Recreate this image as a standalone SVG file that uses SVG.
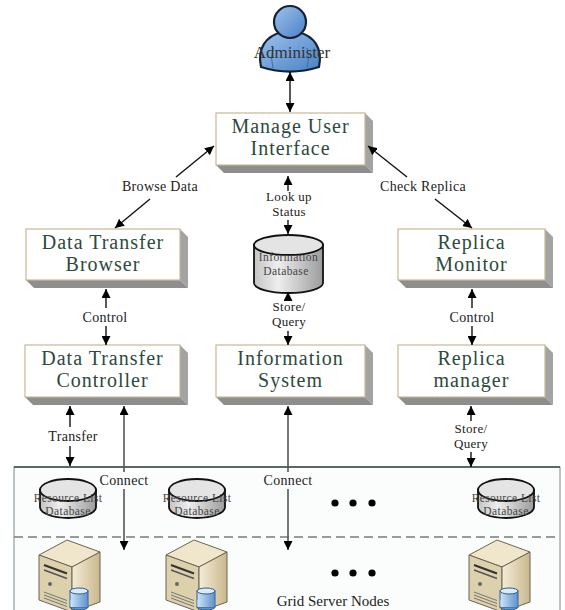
<svg xmlns="http://www.w3.org/2000/svg" xmlns:xlink="http://www.w3.org/1999/xlink" width="565" height="610" viewBox="0 0 565 610">
  <style>
    .face { fill: #ffffff; stroke: #c9b894; stroke-width: 1.2; }
    .side { fill: #a3a3a3; }
    .bottom { fill: #8e8e8e; }
    .boxlabel { font-family: "Liberation Serif", "Times New Roman", serif; font-size: 20px; letter-spacing: 1px; fill: #2c4a3d; text-anchor: middle; }
    .lbl { font-family: "Liberation Serif", "Times New Roman", serif; font-size: 13px; letter-spacing: 0.3px; fill: #222; text-anchor: middle; }
    .lbl1 { font-size: 14px; }
    .dblbl { font-family: "Liberation Serif", "Times New Roman", serif; font-size: 11.5px; letter-spacing: 0.4px; fill: #444; text-anchor: middle; }
    .arrow { stroke: #111; stroke-width: 1.4; fill: none; marker-end: url(#ah); }
    .conn { stroke: #555; stroke-width: 1.6; fill: none; marker-end: url(#ah); }
    .cyl { stroke: #111; stroke-width: 1.8; }
    .dot { fill: #000; }
  </style>
  <defs>
    <marker id="ah" viewBox="0 0 10 10" refX="10" refY="5" markerWidth="9" markerHeight="9" markerUnits="userSpaceOnUse" orient="auto">
      <path d="M0,0 L10,5 L0,10 z" fill="#000"/>
    </marker>
    <linearGradient id="cylBody" x1="0" y1="0" x2="1" y2="0">
      <stop offset="0" stop-color="#c4c4c4"/>
      <stop offset="0.35" stop-color="#eeeeee"/>
      <stop offset="1" stop-color="#9c9c9c"/>
    </linearGradient>
    <linearGradient id="person" x1="0" y1="0" x2="1" y2="1">
      <stop offset="0" stop-color="#9cc3ee"/>
      <stop offset="1" stop-color="#4a80c4"/>
    </linearGradient>
    <linearGradient id="srvSide" x1="0" y1="0" x2="1" y2="0">
      <stop offset="0" stop-color="#f4ecd6"/>
      <stop offset="1" stop-color="#c9b88e"/>
    </linearGradient>
    <linearGradient id="srvBlue" x1="0" y1="0" x2="1" y2="0">
      <stop offset="0" stop-color="#cfe3f7"/>
      <stop offset="1" stop-color="#5e93cc"/>
    </linearGradient>
    <clipPath id="infoClip">
      <rect x="255" y="232" width="67" height="62"/>
    </clipPath>
    <!-- server tower with a small disk cylinder -->
    <g id="server">
      <polygon points="1,15 29,0 62,12 34,27" fill="#efe6cc" stroke="#6b6450" stroke-width="1"/>
      <polygon points="1,15 34,27 34,72 1,60" fill="#ddd0ac" stroke="#6b6450" stroke-width="1"/>
      <polygon points="34,27 62,12 62,62 34,72" fill="url(#srvSide)" stroke="#6b6450" stroke-width="1"/>
      <line x1="6" y1="25" x2="29" y2="33.5" stroke="#333" stroke-width="2"/>
      <line x1="6" y1="30" x2="29" y2="38.5" stroke="#555" stroke-width="1.5"/>
      <circle cx="12" cy="44" r="2" fill="#666"/>
      <line x1="6" y1="52" x2="29" y2="60.5" stroke="#777" stroke-width="1"/>
      <line x1="6" y1="55" x2="29" y2="63.5" stroke="#777" stroke-width="1"/>
      <line x1="6" y1="58" x2="29" y2="66.5" stroke="#777" stroke-width="1"/>
      <ellipse cx="41" cy="67" rx="9" ry="3" fill="#5e93cc" stroke="#2f5f93" stroke-width="1"/>
      <rect x="32" y="51" width="18" height="16" fill="url(#srvBlue)" stroke="#2f5f93" stroke-width="1"/>
      <rect x="32.5" y="60" width="17" height="7" fill="url(#srvBlue)"/>
      <ellipse cx="41" cy="51" rx="9" ry="3" fill="#dcebfa" stroke="#2f5f93" stroke-width="1"/>
    </g>
    <!-- resource list database cylinder -->
    <g id="rdb">
      <path d="M-28,-17 L-28,0 A28,11 0 0 0 28,0 L28,-17 Z" fill="url(#cylBody)" class="cyl"/>
      <ellipse cx="0" cy="-17" rx="28" ry="11" fill="#e4e4e4" class="cyl"/>
      <text x="0" y="-5" class="dblbl">Resource List</text>
      <text x="0" y="8" class="dblbl">Database</text>
    </g>
  </defs>

  <!-- grid region -->
  <g id="grid">
    <rect x="14" y="467" width="546" height="150" fill="#fbfdfd" stroke="#7d8a88" stroke-width="1"/>
    <line x1="14" y1="467" x2="560" y2="467" stroke="#3b4b47" stroke-width="1.6"/>
    <line x1="14" y1="537" x2="560" y2="537" stroke="#7a7a7a" stroke-width="1.5" stroke-dasharray="9 5"/>
  </g>

  <!-- administrator -->
  <g id="administer">
    <path d="M261,67 C257,48 266,36 282,32 L298,32 C314,36 323,48 319,67 C300,73 280,73 261,67 Z" fill="url(#person)" stroke="#142233" stroke-width="2.2"/>
    <path d="M273,48 Q270,58 273,68 M307,48 Q310,58 307,68" stroke="#3d6ea6" stroke-width="1" fill="none"/>
    <circle cx="290" cy="22" r="16" fill="url(#person)" stroke="#142233" stroke-width="2.2"/>
    <text x="292" y="58" font-family="'Liberation Serif', serif" font-size="17" fill="#333" text-anchor="middle">Administer</text>
  </g>

  <!-- 3D boxes -->
  <g id="manage-ui">
    <polygon class="side" points="365,113 373,121 373,173 365,165"/>
    <polygon class="bottom" points="216,165 365,165 373,173 224,173"/>
    <rect class="face" x="216" y="113" width="149" height="52"/>
    <text class="boxlabel" x="290.5" y="133">Manage User</text>
    <text class="boxlabel" x="290.5" y="155">Interface</text>
  </g>

  <g id="dt-browser">
    <polygon class="side" points="180,229 188,237 188,288 180,280"/>
    <polygon class="bottom" points="26,280 180,280 188,288 34,288"/>
    <rect class="face" x="26" y="229" width="154" height="51"/>
    <text class="boxlabel" x="103" y="249">Data Transfer</text>
    <text class="boxlabel" x="103" y="271">Browser</text>
  </g>

  <g id="replica-monitor">
    <polygon class="side" points="545,229 553,237 553,288 545,280"/>
    <polygon class="bottom" points="398,280 545,280 553,288 406,288"/>
    <rect class="face" x="398" y="229" width="147" height="51"/>
    <text class="boxlabel" x="471.5" y="249">Replica</text>
    <text class="boxlabel" x="471.5" y="271">Monitor</text>
  </g>

  <g id="dt-controller">
    <polygon class="side" points="180,345 188,353 188,405 180,397"/>
    <polygon class="bottom" points="25,397 180,397 188,405 33,405"/>
    <rect class="face" x="25" y="345" width="155" height="52"/>
    <text class="boxlabel" x="102.5" y="365">Data Transfer</text>
    <text class="boxlabel" x="102.5" y="387">Controller</text>
  </g>

  <g id="info-system">
    <polygon class="side" points="365,345 373,353 373,405 365,397"/>
    <polygon class="bottom" points="216,397 365,397 373,405 224,405"/>
    <rect class="face" x="216" y="345" width="149" height="52"/>
    <text class="boxlabel" x="290.5" y="365">Information</text>
    <text class="boxlabel" x="290.5" y="387">System</text>
  </g>

  <g id="replica-manager">
    <polygon class="side" points="545,345 553,353 553,405 545,397"/>
    <polygon class="bottom" points="398,397 545,397 553,405 406,405"/>
    <rect class="face" x="398" y="345" width="147" height="52"/>
    <text class="boxlabel" x="471.5" y="365">Replica</text>
    <text class="boxlabel" x="471.5" y="387">manager</text>
  </g>

  <!-- information database -->
  <g id="info-db">
    <path d="M254,245 L254,283 A34.5,10 0 0 0 323,283 L323,245 Z" fill="url(#cylBody)" class="cyl"/>
    <ellipse cx="288.5" cy="245" rx="34.5" ry="10" fill="#e4e4e4" class="cyl"/>
    <g clip-path="url(#infoClip)">
      <text x="288.5" y="261" class="dblbl" font-size="12.5px">Information</text>
    </g>
    <text x="286" y="275" class="dblbl" font-size="12.5px">Database</text>
  </g>

  <!-- resource list databases -->
  <g id="rdb-1"><use xlink:href="#rdb" x="68" y="507"/></g>
  <g id="rdb-2"><use xlink:href="#rdb" x="197" y="507"/></g>
  <g id="rdb-3"><use xlink:href="#rdb" x="506" y="507"/></g>

  <!-- grid server nodes -->
  <g id="server-1"><use xlink:href="#server" x="38" y="540"/></g>
  <g id="server-2"><use xlink:href="#server" x="165" y="540"/></g>
  <g id="server-3"><use xlink:href="#server" x="468" y="540"/></g>

  <g id="ellipsis">
    <circle class="dot" cx="335" cy="503" r="3.6"/>
    <circle class="dot" cx="353" cy="503" r="3.6"/>
    <circle class="dot" cx="372" cy="503" r="3.6"/>
    <circle class="dot" cx="335" cy="573" r="3.6"/>
    <circle class="dot" cx="353" cy="573" r="3.6"/>
    <circle class="dot" cx="372" cy="573" r="3.6"/>
    <text x="333" y="606" font-family="'Liberation Serif', serif" font-size="15" fill="#222" text-anchor="middle">Grid Server Nodes</text>
  </g>

  <!-- connectors -->
  <g id="connectors">
    <line class="arrow" x1="290" y1="92" x2="290" y2="72"/>
    <line class="arrow" x1="290" y1="92" x2="290" y2="112"/>

    <line class="arrow" x1="176" y1="177" x2="214" y2="146"/>
    <line class="arrow" x1="150" y1="199" x2="115" y2="228"/>
    <text class="lbl lbl1" x="160" y="191">Browse Data</text>

    <line class="arrow" x1="407" y1="177" x2="368" y2="146"/>
    <line class="arrow" x1="435" y1="199" x2="472" y2="228"/>
    <text class="lbl lbl1" x="423" y="191">Check Replica</text>

    <line class="arrow" x1="288" y1="191" x2="288" y2="176"/>
    <line class="arrow" x1="288" y1="220" x2="288" y2="234"/>
    <text class="lbl" x="289" y="201">Look up</text>
    <text class="lbl" x="289" y="216">Status</text>

    <line class="arrow" x1="288" y1="301" x2="288" y2="292"/>
    <line class="arrow" x1="288" y1="331" x2="288" y2="345"/>
    <text class="lbl" x="289" y="311">Store/</text>
    <text class="lbl" x="289" y="326">Query</text>

    <line class="arrow" x1="106" y1="308" x2="106" y2="289"/>
    <line class="arrow" x1="106" y1="326" x2="106" y2="345"/>
    <text class="lbl lbl1" x="105" y="322">Control</text>

    <line class="arrow" x1="472" y1="308" x2="472" y2="289"/>
    <line class="arrow" x1="472" y1="326" x2="472" y2="345"/>
    <text class="lbl lbl1" x="472" y="322">Control</text>

    <line class="arrow" x1="70" y1="427" x2="70" y2="406"/>
    <line class="arrow" x1="70" y1="446" x2="70" y2="466"/>
    <text class="lbl lbl1" x="73" y="441">Transfer</text>

    <line class="arrow" x1="471" y1="421" x2="471" y2="406"/>
    <line class="arrow" x1="471" y1="452" x2="471" y2="467"/>
    <text class="lbl" x="471" y="433">Store/</text>
    <text class="lbl" x="471" y="448">Query</text>

    <line class="conn" x1="124" y1="472" x2="124" y2="406"/>
    <line class="conn" x1="124" y1="489" x2="124" y2="550"/>
    <text class="lbl lbl1" x="124" y="485">Connect</text>

    <line class="conn" x1="288" y1="472" x2="288" y2="406"/>
    <line class="conn" x1="288" y1="489" x2="288" y2="550"/>
    <text class="lbl lbl1" x="288" y="485">Connect</text>
  </g>
</svg>
